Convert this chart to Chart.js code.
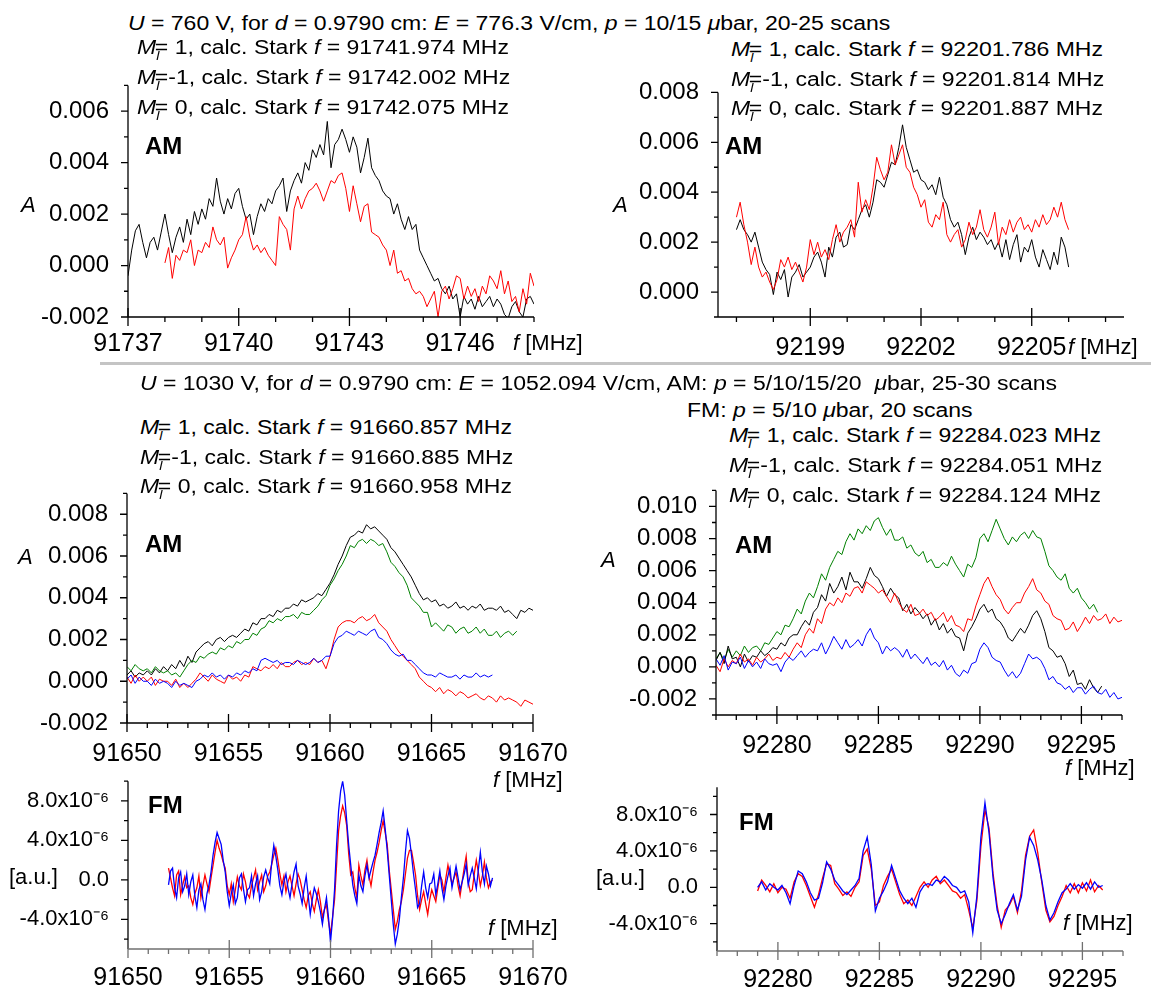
<!DOCTYPE html>
<html>
<head>
<meta charset="utf-8">
<script src="https://cdn.jsdelivr.net/npm/chart.js@4.4.1/dist/chart.umd.min.js"></script>
<style>
html, body { margin: 0; padding: 0; background: #fff; overflow: hidden; }
body { position: relative; width: 1151px; height: 990px; font-family: "Liberation Sans", Arial, sans-serif; color: #000; }
canvas { position: absolute; }
.note { position: absolute; white-space: nowrap; line-height: 1; transform-origin: 0 50%; transform: translateY(-50%); }
.info { font-size: 20px; transform: translateY(-50%) scaleX(1.15); }
.info sub { font-size: 62%; font-style: italic; vertical-align: -0.45em; line-height: 0; margin-right: -0.32em; }
.tag { font-size: 24px; font-weight: bold; }
.axt { font-size: 22px; }
.sep { position: absolute; left: 100px; top: 362px; width: 1051px; height: 3px; background: #c4c4c4; }
</style>
</head>
<body>
<div class="sep"></div>
<script>
// ---- AM, U = 760 V, line near 91742 MHz (A in units of 1e-3) ----
const freq91742 = [
  91737.0,91737.1,91737.2,91737.3,91737.4,91737.5,91737.6,91737.7,91737.8,91737.9,
  91738.0,91738.1,91738.2,91738.3,91738.4,91738.5,91738.6,91738.7,91738.8,91738.9,
  91739.0,91739.1,91739.2,91739.3,91739.4,91739.5,91739.6,91739.7,91739.8,91739.9,
  91740.0,91740.1,91740.2,91740.3,91740.4,91740.5,91740.6,91740.7,91740.8,91740.9,
  91741.0,91741.1,91741.2,91741.3,91741.4,91741.5,91741.6,91741.7,91741.8,91741.9,
  91742.0,91742.1,91742.2,91742.3,91742.4,91742.5,91742.6,91742.7,91742.8,91742.9,
  91743.0,91743.1,91743.2,91743.3,91743.4,91743.5,91743.6,91743.7,91743.8,91743.9,
  91744.0,91744.1,91744.2,91744.3,91744.4,91744.5,91744.6,91744.7,91744.8,91744.9,
  91745.0,91745.1,91745.2,91745.3,91745.4,91745.5,91745.6,91745.7,91745.8,91745.9,
  91746.0,91746.1,91746.2,91746.3,91746.4,91746.5,91746.6,91746.7,91746.8,91746.9,
  91747.0,91747.1,91747.2,91747.3,91747.4,91747.5,91747.6,91747.7,91747.8,91747.9,
  91748.0
];
const black91742 = [
  -0.4,0.6,1.35,1.6,0.9,0.3,0.9,1.1,0.6,1.3,
  2.0,1.2,0.5,1.1,1.5,0.9,1.8,1.2,2.1,1.6,
  2.2,1.8,2.6,2.3,3.4,2.5,2.0,2.6,2.2,2.8,
  3.0,2.3,1.8,2.0,1.2,1.9,2.4,2.1,2.6,2.4,
  2.9,3.1,3.4,2.1,2.9,3.3,3.6,3.2,4.0,3.7,
  4.5,4.2,4.7,4.3,5.6,3.8,4.7,4.9,5.3,4.9,
  4.4,5.0,4.6,3.6,4.2,4.95,3.8,3.5,3.3,2.9,
  2.7,2.6,2.0,2.4,1.8,1.4,1.9,1.4,1.6,0.6,
  0.3,0.0,-0.3,-0.6,-0.5,-0.9,-1.1,-0.8,-1.3,-1.1,
  -2.0,-1.2,-1.5,-1.3,-1.7,-1.2,-1.6,-1.4,-1.2,-1.6,
  -1.3,-1.5,-1.9,-2.05,-1.6,-1.4,-1.8,-2.0,-1.3,-1.2,
  -1.5
];
const red91742 = [
  null,null,null,null,null,null,null,null,null,null,
  0.1,0.7,-0.5,0.4,0.2,0.6,0.5,1.0,0.0,0.6,
  0.5,0.9,0.7,1.5,1.0,0.8,1.1,-0.1,0.3,0.6,
  1.0,1.2,1.9,1.1,0.6,0.8,0.5,0.7,0.4,0.2,
  0.0,1.9,1.6,1.4,0.6,2.2,2.7,2.2,2.6,2.9,
  3.0,3.2,2.9,2.5,2.9,3.3,3.2,3.5,3.6,3.0,
  2.1,3.1,2.4,1.7,2.3,2.4,1.3,1.2,1.1,0.8,
  0.6,0.0,0.6,-0.3,-0.2,-0.6,-0.5,-0.9,-1.1,-1.0,
  -1.2,-1.6,-1.3,-1.0,-2.0,-1.0,-0.8,-1.3,-0.9,-0.4,
  -0.5,-1.3,-0.8,-1.2,-0.9,-1.4,-0.8,-1.1,-0.4,-0.6,
  -0.9,-0.2,-1.1,-0.6,-1.4,-1.2,-1.8,-0.9,-1.5,-0.3,
  -0.8
];

// ---- AM, U = 760 V, line near 92202 MHz ----
const freq92201 = [
  92197.0,92197.1,92197.2,92197.3,92197.4,92197.5,92197.6,92197.7,92197.8,92197.9,
  92198.0,92198.1,92198.2,92198.3,92198.4,92198.5,92198.6,92198.7,92198.8,92198.9,
  92199.0,92199.1,92199.2,92199.3,92199.4,92199.5,92199.6,92199.7,92199.8,92199.9,
  92200.0,92200.1,92200.2,92200.3,92200.4,92200.5,92200.6,92200.7,92200.8,92200.9,
  92201.0,92201.1,92201.2,92201.3,92201.4,92201.5,92201.6,92201.7,92201.8,92201.9,
  92202.0,92202.1,92202.2,92202.3,92202.4,92202.5,92202.6,92202.7,92202.8,92202.9,
  92203.0,92203.1,92203.2,92203.3,92203.4,92203.5,92203.6,92203.7,92203.8,92203.9,
  92204.0,92204.1,92204.2,92204.3,92204.4,92204.5,92204.6,92204.7,92204.8,92204.9,
  92205.0,92205.1,92205.2,92205.3,92205.4,92205.5,92205.6,92205.7,92205.8,92205.9,
  92206.0
];
const black92201 = [
  2.5,2.9,2.5,2.3,2.0,2.4,1.8,1.2,0.9,0.7,
  -0.1,0.8,0.5,0.9,-0.2,0.6,0.8,1.1,0.6,0.8,
  1.0,1.4,1.6,1.2,0.6,1.8,1.4,2.2,2.4,1.8,
  1.9,2.7,2.5,2.9,3.3,3.5,3.0,3.6,4.5,4.4,
  4.2,4.7,5.2,5.1,5.8,6.7,5.8,5.3,4.8,4.9,
  4.5,4.4,4.1,4.3,3.9,4.6,3.8,3.5,2.9,2.6,
  2.8,2.3,1.5,2.2,2.6,2.1,2.4,2.2,1.9,2.1,
  1.7,2.0,1.4,2.1,1.3,1.9,2.3,1.2,1.8,1.6,
  2.1,1.4,1.0,1.7,1.3,0.9,1.6,1.1,2.2,1.8,
  1.0
];
const red92201 = [
  3.0,3.6,2.7,2.0,1.1,1.8,1.0,0.6,0.8,0.4,
  0.1,0.5,1.3,1.0,1.4,0.9,1.2,0.8,0.4,1.0,
  2.1,1.5,2.0,1.4,1.7,1.3,2.1,2.7,2.0,2.4,
  2.6,2.9,2.2,4.4,3.2,3.7,3.3,4.2,5.4,4.9,
  4.5,4.8,5.9,5.1,5.5,5.9,5.0,4.8,4.2,3.9,
  3.4,3.7,2.8,2.6,3.1,2.9,3.6,2.3,2.0,2.3,
  2.5,1.8,2.1,2.8,2.3,2.6,3.3,2.5,2.2,2.6,
  3.2,1.9,2.6,2.3,2.9,2.4,2.8,3.0,2.5,2.7,
  2.4,2.9,2.6,3.1,2.7,2.9,3.4,3.0,3.6,2.9,
  2.5
];

// ---- AM, U = 1030 V, line near 91661 MHz ----
const freq91660 = [
  91650.0,91650.2,91650.4,91650.6,91650.8,91651.0,91651.2,91651.4,91651.6,91651.8,
  91652.0,91652.2,91652.4,91652.6,91652.8,91653.0,91653.2,91653.4,91653.6,91653.8,
  91654.0,91654.2,91654.4,91654.6,91654.8,91655.0,91655.2,91655.4,91655.6,91655.8,
  91656.0,91656.2,91656.4,91656.6,91656.8,91657.0,91657.2,91657.4,91657.6,91657.8,
  91658.0,91658.2,91658.4,91658.6,91658.8,91659.0,91659.2,91659.4,91659.6,91659.8,
  91660.0,91660.2,91660.4,91660.6,91660.8,91661.0,91661.2,91661.4,91661.6,91661.8,
  91662.0,91662.2,91662.4,91662.6,91662.8,91663.0,91663.2,91663.4,91663.6,91663.8,
  91664.0,91664.2,91664.4,91664.6,91664.8,91665.0,91665.2,91665.4,91665.6,91665.8,
  91666.0,91666.2,91666.4,91666.6,91666.8,91667.0,91667.2,91667.4,91667.6,91667.8,
  91668.0,91668.2,91668.4,91668.6,91668.8,91669.0,91669.2,91669.4,91669.6,91669.8,
  91670.0
];
const black91660 = [
  0.3,0.5,0.2,0.4,0.3, 0.5,0.3,0.6,0.4,0.7,
  0.5,0.8,0.6,1.0,0.7, 1.2,0.9,1.4,1.6,1.8,
  1.9,1.7,2.0,2.1,1.9, 2.1,2.2,2.1,2.3,2.5,
  2.4,2.8,2.7,3.0,3.0, 3.2,3.1,3.4,3.3,3.5,
  3.5,3.7,3.6,3.9,3.8, 3.9,4.0,4.2,4.1,4.4,
  4.7,5.1,5.6,6.0,6.5, 6.9,7.0,7.2,7.1,7.5,
  7.3,7.4,7.2,7.0,6.8, 6.4,6.2,5.9,5.6,5.3,
  5.0,4.6,4.2,3.9,4.0, 3.8,3.9,3.6,3.7,3.5,
  3.6,3.8,3.5,3.6,3.4, 3.6,3.5,3.7,3.4,3.5,
  3.5,3.4,3.6,3.3,3.4, 3.2,3.0,3.4,3.3,3.5,
  3.4
];
const green91660 = [
  0.7,0.5,0.8,0.6,0.5, 0.6,0.4,0.7,0.5,0.4,
  0.5,0.3,0.4,0.2,0.5, 0.8,1.0,0.9,1.2,1.1,
  1.3,1.4,1.3,1.6,1.5, 1.7,1.6,1.9,1.8,2.0,
  2.0,2.3,2.2,2.5,2.6, 2.9,2.8,3.0,2.9,3.1,
  3.1,3.2,3.0,3.3,3.2, 3.2,3.4,3.6,3.9,4.1,
  4.6,4.9,5.3,5.6,6.0, 6.5,6.4,6.7,6.8,6.6,
  6.8,6.7,6.5,6.6,6.2, 5.7,5.5,5.2,5.0,4.6,
  4.0,3.8,3.6,3.3,3.3, 2.6,2.8,2.6,2.4,2.7,
  2.6,2.3,2.5,2.6,2.3, 2.4,2.6,2.3,2.5,2.2,
  2.2,2.4,2.1,2.3,2.4, 2.2,2.4,null,null,null,
  null
];
const red91660 = [
  0.2,-0.1,0.3,0.0,0.2, 0.0,0.2,-0.2,0.1,0.0,
  0.0,-0.2,0.1,-0.3,-0.1, -0.3,-0.1,0.1,0.4,0.2,
  0.0,0.3,0.1,0.0,-0.1, 0.3,0.1,0.2,0.0,0.3,
  0.2,0.7,0.6,0.5,0.7, 0.6,0.8,0.6,0.9,0.7,
  0.7,0.9,1.0,0.8,0.9, 0.8,1.1,0.9,1.0,0.6,
  1.2,2.0,2.6,2.8,2.9, 2.9,2.8,3.0,3.1,2.9,
  3.0,3.2,2.8,2.6,2.4, 2.0,1.7,1.4,1.2,1.0,
  0.8,0.6,0.2,0.0,-0.2, -0.3,-0.5,-0.3,-0.6,-0.4,
  -0.5,-0.7,-0.5,-0.6,-0.8, -0.7,-0.6,-0.8,-0.9,-0.7,
  -0.8,-1.0,-0.7,-0.9,-0.8, -0.9,-1.0,-1.2,-0.9,-1.0,
  -1.1
];
const blue91660 = [
  0.1,0.3,-0.1,0.2,0.0, 0.0,-0.2,0.1,-0.1,0.0,
  -0.1,-0.3,0.0,-0.2,-0.1, -0.2,-0.3,0.0,0.1,0.3,
  0.2,0.4,0.2,0.3,0.1, 0.3,0.2,0.4,0.3,0.5,
  0.4,0.6,0.5,1.0,1.1, 1.0,0.9,1.0,0.8,0.9,
  0.9,0.8,1.0,0.9,0.8, 0.9,1.1,0.9,1.0,1.2,
  1.2,1.8,2.1,2.2,2.4, 2.3,2.2,2.4,2.3,2.2,
  2.4,2.5,2.1,2.0,1.8, 1.5,1.3,1.2,1.3,1.0,
  1.0,0.8,0.6,0.4,0.3, 0.3,0.2,0.4,0.3,0.2,
  0.2,0.3,0.1,0.3,0.2, 0.2,0.4,0.2,0.3,0.2,
  0.3,null,null,null,null, null,null,null,null,null,
  null
];

// ---- AM, U = 1030 V, lines near 92284 MHz ----
const freq92284 = [
  92277.0,92277.2,92277.4,92277.6,92277.8,92278.0,92278.2,92278.4,92278.6,92278.8,
  92279.0,92279.2,92279.4,92279.6,92279.8,92280.0,92280.2,92280.4,92280.6,92280.8,
  92281.0,92281.2,92281.4,92281.6,92281.8,92282.0,92282.2,92282.4,92282.6,92282.8,
  92283.0,92283.2,92283.4,92283.6,92283.8,92284.0,92284.2,92284.4,92284.6,92284.8,
  92285.0,92285.2,92285.4,92285.6,92285.8,92286.0,92286.2,92286.4,92286.6,92286.8,
  92287.0,92287.2,92287.4,92287.6,92287.8,92288.0,92288.2,92288.4,92288.6,92288.8,
  92289.0,92289.2,92289.4,92289.6,92289.8,92290.0,92290.2,92290.4,92290.6,92290.8,
  92291.0,92291.2,92291.4,92291.6,92291.8,92292.0,92292.2,92292.4,92292.6,92292.8,
  92293.0,92293.2,92293.4,92293.6,92293.8,92294.0,92294.2,92294.4,92294.6,92294.8,
  92295.0,92295.2,92295.4,92295.6,92295.8,92296.0,92296.2,92296.4,92296.6,92296.8,
  92297.0
];
const green92284 = [
  0.5,0.9,0.4,1.1,0.6, 1.0,0.7,1.3,0.9,1.2,
  1.3,1.0,1.5,1.4,1.8, 2.2,2.0,2.6,2.5,3.0,
  3.6,3.3,4.1,4.6,4.3, 5.0,5.8,5.4,6.2,6.7,
  7.2,7.0,7.8,8.3,7.9, 8.6,8.3,8.8,8.5,9.1,
  9.3,8.7,8.2,8.6,7.9, 7.9,8.1,7.4,7.6,7.1,
  6.9,7.2,6.5,6.7,6.2, 6.2,6.5,6.3,6.9,6.4,
  6.0,5.6,6.4,6.2,6.8, 8.0,8.3,7.8,8.5,9.2,
  8.6,8.0,7.6,8.1,7.8, 8.2,8.4,8.0,8.5,8.1,
  8.0,7.2,6.3,6.0,5.6, 5.4,5.8,4.9,4.6,4.9,
  4.3,4.0,3.6,3.9,3.4, null,null,null,null,null,
  null
];
const black92284 = [
  0.4,0.9,0.2,1.3,0.5, 0.6,0.0,0.8,0.3,0.7,
  0.6,1.0,0.7,0.9,1.2, 1.1,1.5,1.3,1.8,2.0,
  2.0,2.5,2.9,2.6,3.4, 3.7,4.5,4.1,5.2,4.6,
  5.0,5.6,4.8,5.9,5.3, 5.3,4.9,5.5,6.2,5.7,
  5.5,5.0,4.4,4.9,4.5, 4.3,3.5,3.9,3.3,3.7,
  3.4,3.0,3.3,2.6,3.0, 2.3,2.7,2.1,2.4,1.9,
  1.8,1.0,2.1,2.5,3.0, 3.6,3.9,3.4,3.6,3.0,
  2.8,2.4,1.8,1.6,2.0, 2.4,2.1,2.6,3.2,3.5,
  3.0,2.2,1.2,1.0,0.6, 0.7,0.2,-0.6,-0.2,-1.1,
  -1.0,-1.4,-0.8,-1.3,-1.6, -1.2,null,null,null,null,
  null
];
const red92284 = [
  0.1,-0.3,0.5,0.0,0.4, 0.2,0.8,0.3,0.5,0.1,
  0.6,0.3,0.5,0.8,0.4, 0.6,0.5,0.9,0.6,1.1,
  1.5,1.2,2.0,2.4,2.1, 3.0,2.7,3.6,4.0,3.8,
  4.3,4.0,4.6,4.4,4.9, 5.0,4.6,5.3,5.1,4.9,
  4.6,4.8,4.4,4.0,4.6, 4.0,3.6,3.4,3.9,3.2,
  3.3,3.6,3.2,3.4,2.9, 3.1,3.4,2.8,3.2,2.6,
  2.5,2.2,3.0,2.9,3.8, 4.5,5.2,5.6,5.0,4.5,
  4.2,3.6,3.3,3.7,4.0, 4.0,4.6,5.0,5.5,4.8,
  4.6,4.1,3.9,3.2,3.0, 2.9,2.3,2.4,2.8,2.2,
  2.6,3.1,2.7,3.2,2.9, 3.0,3.3,2.7,3.1,2.8,
  2.9
];
const blue92284 = [
  0.5,0.1,0.7,-0.2,0.3, 0.2,0.6,-0.1,0.4,0.0,
  0.3,-0.1,0.5,0.2,0.1, 0.2,-0.3,0.3,0.6,0.4,
  0.7,1.0,0.6,0.9,1.1, 1.0,1.5,0.8,1.3,1.9,
  1.5,1.1,1.7,1.2,1.4, 1.7,1.3,2.0,2.4,1.8,
  1.5,0.8,1.3,1.0,1.2, 1.0,0.6,1.1,0.5,0.8,
  0.5,0.2,0.6,0.1,0.3, 0.0,0.4,-0.2,0.1,-0.4,
  -0.6,-0.2,-0.4,0.2,0.3, 1.1,1.5,1.2,0.6,0.4,
  0.3,-0.2,-0.6,-0.3,-0.7, -0.4,0.2,0.8,0.5,0.6,
  0.4,-0.1,-0.8,-0.6,-1.0, -1.1,-1.4,-1.2,-1.6,-1.3,
  -1.3,-1.7,-1.4,-1.2,-1.6, -1.7,-1.4,-1.9,-1.6,-2.0,
  -1.9
];

// ---- FM, U = 1030 V (signal in units of 1e-6) ----
const freq91660fm = [
  91652.0,91652.1,91652.2,91652.3,91652.4,91652.5,91652.6,91652.7,91652.8,91652.9,
  91653.0,91653.1,91653.2,91653.3,91653.4,91653.5,91653.6,91653.7,91653.8,91653.9,
  91654.0,91654.1,91654.2,91654.3,91654.4,91654.5,91654.6,91654.7,91654.8,91654.9,
  91655.0,91655.1,91655.2,91655.3,91655.4,91655.5,91655.6,91655.7,91655.8,91655.9,
  91656.0,91656.1,91656.2,91656.3,91656.4,91656.5,91656.6,91656.7,91656.8,91656.9,
  91657.0,91657.1,91657.2,91657.3,91657.4,91657.5,91657.6,91657.7,91657.8,91657.9,
  91658.0,91658.1,91658.2,91658.3,91658.4,91658.5,91658.6,91658.7,91658.8,91658.9,
  91659.0,91659.1,91659.2,91659.3,91659.4,91659.5,91659.6,91659.7,91659.8,91659.9,
  91660.0,91660.1,91660.2,91660.3,91660.4,91660.5,91660.6,91660.7,91660.8,91660.9,
  91661.0,91661.1,91661.2,91661.3,91661.4,91661.5,91661.6,91661.7,91661.8,91661.9,
  91662.0,91662.1,91662.2,91662.3,91662.4,91662.5,91662.6,91662.7,91662.8,91662.9,
  91663.0,91663.1,91663.2,91663.3,91663.4,91663.5,91663.6,91663.7,91663.8,91663.9,
  91664.0,91664.1,91664.2,91664.3,91664.4,91664.5,91664.6,91664.7,91664.8,91664.9,
  91665.0,91665.1,91665.2,91665.3,91665.4,91665.5,91665.6,91665.7,91665.8,91665.9,
  91666.0,91666.1,91666.2,91666.3,91666.4,91666.5,91666.6,91666.7,91666.8,91666.9,
  91667.0,91667.1,91667.2,91667.3,91667.4,91667.5,91667.6,91667.7,91667.8,91667.9,
  91668.0
];
const blue91660fm = [
  -0.5,0.9,1.2,-0.8,-1.8,0.2,0.8,-1.2,-0.6,0.6,
  -1.5,-0.2,0.5,-1.6,-2.8,-1.0,-0.4,-2.0,-3.0,-1.4,
  -0.5,0.8,2.5,3.8,4.8,4.2,3.6,2.0,0.8,-1.2,
  -2.6,-1.4,-0.5,-2.4,-1.8,0.2,0.6,-0.9,-2.2,-1.0,
  -0.8,0.4,-1.6,-0.4,0.4,-2.0,-1.2,0.3,1.0,0.2,
  -0.4,1.8,3.5,2.4,1.0,-0.6,-1.5,-0.2,0.6,-0.8,
  -1.8,-0.4,0.8,1.6,-0.6,-1.4,-2.4,-0.8,0.4,-1.6,
  -3.5,-2.0,-0.8,-1.4,-2.2,-3.2,-4.5,-3.0,-1.8,-3.8,
  -6.3,-4.0,-1.0,3.5,7.0,9.0,10.0,8.6,6.0,3.5,
  1.5,-0.5,-1.6,-2.4,0.5,-0.6,-1.2,0.4,1.5,0.2,
  1.0,1.8,2.5,3.6,4.8,5.8,7.0,5.2,3.0,0.5,
  -2.0,-4.5,-6.5,-5.5,-4.0,-1.8,0.2,2.8,5.0,4.2,
  2.5,0.6,-1.0,-2.8,-2.4,-0.6,0.8,-0.8,-1.8,-0.4,
  -0.3,0.6,-1.5,-0.4,0.9,-0.8,-2.0,-0.6,0.4,1.2,
  -0.8,0.3,1.4,0.2,-1.0,-0.2,0.6,1.6,-0.5,0.4,
  1.2,0.2,-0.9,1.0,2.8,0.8,-0.4,1.4,0.6,-0.6,
  0.2
];
const red91660fm = [
  1.2,0.2,-0.8,-1.6,0.5,0.9,-1.5,-0.5,0.3,-0.8,
  -0.6,-1.8,-2.5,-1.4,-0.8,0.4,-1.8,-0.6,0.5,-0.4,
  -1.2,0.2,1.5,2.8,4.0,3.2,2.6,1.8,1.2,-0.6,
  -1.5,-0.4,-2.2,-1.0,0.3,-0.6,-1.0,0.6,-0.2,-1.4,
  -1.8,-0.6,0.2,1.0,-1.0,-0.2,0.5,-1.2,-0.6,0.4,
  0.8,1.6,2.5,3.2,2.0,0.6,-0.5,0.4,-1.2,-0.2,
  0.4,-0.6,-1.6,-0.4,0.6,0.0,-1.0,-2.0,-2.8,-1.6,
  -1.2,-2.4,-3.2,-2.0,-1.0,-2.2,-3.8,-3.0,-2.5,-4.2,
  -5.5,-3.8,-2.0,1.5,5.0,6.5,7.5,6.8,5.5,2.6,
  0.5,0.8,-0.8,-1.8,1.5,0.4,-0.5,1.0,2.0,0.4,
  -0.6,0.8,2.0,2.8,3.8,5.0,6.0,4.8,3.6,1.0,
  -1.0,-3.0,-5.0,-4.2,-3.0,-2.2,-1.0,0.6,2.2,3.0,
  3.0,1.8,0.5,-1.6,-3.0,-2.0,-1.2,-2.4,-3.5,-2.0,
  -1.0,-1.6,-2.2,-0.8,0.5,0.0,-1.2,0.2,1.5,0.4,
  -0.4,0.2,0.8,-0.6,-1.6,-0.2,1.2,2.4,-0.2,-1.2,
  -1.0,0.6,2.0,0.8,-0.6,0.4,1.8,0.2,-0.8,-0.2,
  0.0
];

const freq92284fm = [
  92279.0,92279.2,92279.4,92279.6,92279.8,92280.0,92280.2,92280.4,92280.6,92280.8,
  92281.0,92281.2,92281.4,92281.6,92281.8,92282.0,92282.2,92282.4,92282.6,92282.8,
  92283.0,92283.2,92283.4,92283.6,92283.8,92284.0,92284.2,92284.4,92284.6,92284.8,
  92285.0,92285.2,92285.4,92285.6,92285.8,92286.0,92286.2,92286.4,92286.6,92286.8,
  92287.0,92287.2,92287.4,92287.6,92287.8,92288.0,92288.2,92288.4,92288.6,92288.8,
  92289.0,92289.2,92289.4,92289.6,92289.8,92290.0,92290.2,92290.4,92290.6,92290.8,
  92291.0,92291.2,92291.4,92291.6,92291.8,92292.0,92292.2,92292.4,92292.6,92292.8,
  92293.0,92293.2,92293.4,92293.6,92293.8,92294.0,92294.2,92294.4,92294.6,92294.8,
  92295.0,92295.2,92295.4,92295.6,92295.8,92296.0
];
const blue92284fm = [
  0.0,0.6,-0.3,0.4,0.0, -0.3,0.2,-0.6,-1.8,0.2,
  1.8,1.5,0.6,-0.6,-1.4, -1.2,0.5,2.8,2.0,0.8,
  0.2,-0.4,-0.8,-0.3,0.2, 1.0,4.0,5.5,2.5,-2.6,
  -1.2,-0.4,0.6,2.4,1.0, -0.4,-1.2,-1.8,-1.2,-2.2,
  -0.5,0.2,0.4,0.2,0.8, 0.6,1.2,0.8,0.2,0.0,
  -0.6,-0.4,-1.6,-5.0,-1.0, 5.5,9.3,6.0,1.0,-2.5,
  -4.0,-3.0,-1.8,-0.8,-2.5, -1.0,3.0,5.5,4.6,3.0,
  0.8,-2.0,-3.6,-2.8,-1.6, -0.6,-0.2,0.4,-0.2,0.3,
  -0.1,0.5,-0.2,0.6,0.0, 0.2
];
const red92284fm = [
  -0.4,0.8,0.2,-0.5,0.4, -0.6,0.0,-0.2,-1.2,0.6,
  1.5,1.2,0.2,-1.0,-2.2, -0.8,1.0,2.6,2.4,0.4,
  -0.2,-0.9,-0.5,-1.0,0.0, 0.6,3.5,4.2,2.0,-2.0,
  -1.6,0.2,1.2,2.0,0.6, -0.8,-1.8,-1.4,-2.0,-1.0,
  0.0,0.6,0.0,0.8,1.2, 0.4,0.8,0.2,-0.4,-0.6,
  -1.2,-0.8,-2.5,-4.5,-1.5, 4.5,8.5,6.5,1.5,-2.0,
  -4.4,-2.5,-2.0,-1.0,-2.8, -0.4,3.5,5.6,6.3,3.8,
  0.5,-2.5,-3.8,-3.2,-2.0, -1.0,0.2,-0.6,0.4,-0.6,
  0.5,-0.4,0.8,-0.5,0.2, -0.3
];

// ---- axis ticks: every tick position, and the ones that carry a label ----
const ticks91742 = [91737,91738,91739,91740,91741,91742,91743,91744,91745,91746,91747,91748];
const labels91742 = [91737,91740,91743,91746];
const ticks92201 = [92197,92198,92199,92200,92201,92202,92203,92204,92205,92206,92207];
const labels92201 = [92199,92202,92205];
const ticks91660 = [91650,91651,91652,91653,91654,91655,91656,91657,91658,91659,91660,
                    91661,91662,91663,91664,91665,91666,91667,91668,91669,91670];
const labels91660 = [91650,91655,91660,91665,91670];
const ticks92284 = [92277,92278,92279,92280,92281,92282,92283,92284,92285,92286,92287,
                    92288,92289,92290,92291,92292,92293,92294,92295,92296,92297];
const labels92284 = [92280,92285,92290,92295];

const yTicksTopLeft = [-2,-1,0,1,2,3,4,5,6,7];
const yLabelsTopLeft = [-2,0,2,4,6];
const yTicksTopRight = [-1,0,1,2,3,4,5,6,7,8];
const yLabelsTopRight = [0,2,4,6,8];
const yTicksMidLeft = [-2,-1,0,1,2,3,4,5,6,7,8,9];
const yLabelsMidLeft = [-2,0,2,4,6,8];
const yTicksMidRight = [-3,-2,-1,0,1,2,3,4,5,6,7,8,9,10,11];
const yLabelsMidRight = [-2,0,2,4,6,8,10];
const yTicksFm = [-6,-4,-2,0,2,4,6,8,10];
const yLabelsFm = [-4,0,4,8];

const FONT = '"Liberation Sans", Arial, sans-serif';
const Y_AXIS_W = 110, PAD_TOP = 16, X_AXIS_H = 64, PAD_RIGHT = 70;

function toPoints(xs, ys) {
  const pts = [];
  xs.forEach((x, i) => { if (ys[i] !== null && ys[i] !== undefined) pts.push({x: x, y: ys[i]}); });
  return pts;
}

// axis lines and tick marks drawn Origin-style from the scales
const axisFrame = {
  id: 'axisFrame',
  afterDraw(chart, args, o) {
    const {ctx, chartArea: a, scales: {x, y}} = chart;
    ctx.save();
    ctx.lineWidth = 1.3;
    ctx.strokeStyle = '#000';
    ctx.beginPath();
    ctx.moveTo(a.left, a.top);
    ctx.lineTo(a.left, a.bottom);
    o.yTicks.forEach(v => {
      const p = y.getPixelForValue(v);
      const len = o.yLabels.includes(v) ? 7 : 4;
      ctx.moveTo(a.left - len, p);
      ctx.lineTo(a.left, p);
    });
    ctx.stroke();
    ctx.strokeStyle = o.xColor;
    ctx.beginPath();
    ctx.moveTo(a.left, a.bottom);
    ctx.lineTo(a.right, a.bottom);
    o.xTicks.forEach(v => {
      const p = x.getPixelForValue(v);
      if (o.xLabels.includes(v)) {
        ctx.moveTo(p, a.bottom - 9);
        ctx.lineTo(p, a.bottom + 9);
      } else {
        ctx.moveTo(p, a.bottom);
        ctx.lineTo(p, a.bottom + 5);
      }
    });
    ctx.stroke();
    ctx.restore();
  }
};

function panel(p) {
  const w = Math.round(Y_AXIS_W + (p.right - p.left) + PAD_RIGHT);
  const h = Math.round(PAD_TOP + (p.bottom - p.top) + X_AXIS_H);
  const c = document.createElement('canvas');
  c.width = w;
  c.height = h;
  c.style.width = w + 'px';
  c.style.height = h + 'px';
  c.style.left = Math.round(p.left - Y_AXIS_W) + 'px';
  c.style.top = Math.round(p.top - PAD_TOP) + 'px';
  document.body.appendChild(c);

  new Chart(c, {
    type: 'line',
    data: {
      datasets: p.series.map(s => ({
        data: toPoints(p.freq, s.values),
        borderColor: s.color,
        borderWidth: p.lineWidth || 1,
        pointRadius: 0,
        tension: 0,
        fill: false
      }))
    },
    options: {
      responsive: false,
      animation: false,
      events: [],
      layout: { padding: { top: PAD_TOP, right: PAD_RIGHT, left: 0, bottom: 0 } },
      plugins: {
        legend: { display: false },
        tooltip: { enabled: false },
        axisFrame: { xTicks: p.xTicks, xLabels: p.xLabels, yTicks: p.yTicks, yLabels: p.yLabels, xColor: p.xColor || '#000' }
      },
      scales: {
        x: {
          type: 'linear', min: p.xMin, max: p.xMax,
          grid: { display: false }, border: { display: false },
          afterBuildTicks: s => { s.ticks = p.xTicks.map(v => ({ value: v })); },
          afterFit: s => { s.height = X_AXIS_H; },
          ticks: {
            autoSkip: false, maxRotation: 0, minRotation: 0, padding: p.xPad, color: '#000',
            font: { family: FONT, size: 25 },
            callback: v => p.xLabels.includes(v) ? String(v) : ''
          }
        },
        y: {
          type: 'linear', min: p.yMin, max: p.yMax,
          grid: { display: false }, border: { display: false },
          afterBuildTicks: s => { s.ticks = p.yTicks.map(v => ({ value: v })); },
          afterFit: s => { s.width = Y_AXIS_W; },
          ticks: {
            autoSkip: false, padding: 11, color: '#000',
            font: { family: FONT, size: p.yFont },
            callback: v => p.yLabels.includes(v) ? p.fmt(v) : ''
          }
        }
      }
    },
    plugins: [axisFrame]
  });
}

const fmtAm = v => (v / 1000).toFixed(3);
const fmtFm = v => v === 0 ? '0.0' : v.toFixed(1) + 'x10\u207B\u2076';

panel({ left: 128, right: 534, top: 76, bottom: 317, xMin: 91737, xMax: 91748, yMin: -2, yMax: 7,
  freq: freq91742, xTicks: ticks91742, xLabels: labels91742, yTicks: yTicksTopLeft, yLabels: yLabelsTopLeft,
  xPad: 4, yFont: 24, fmt: fmtAm,
  series: [ { values: red91742, color: '#ff0000' }, { values: black91742, color: '#000000' } ] });

panel({ left: 718, right: 1124, top: 83, bottom: 317, xMin: 92196.5, xMax: 92207.5, yMin: -1, yMax: 8,
  freq: freq92201, xTicks: ticks92201, xLabels: labels92201, yTicks: yTicksTopRight, yLabels: yLabelsTopRight,
  xPad: 8, yFont: 24, fmt: fmtAm,
  series: [ { values: red92201, color: '#ff0000' }, { values: black92201, color: '#000000' } ] });

panel({ left: 127, right: 533, top: 484, bottom: 723, xMin: 91650, xMax: 91670, yMin: -2, yMax: 9,
  freq: freq91660, xTicks: ticks91660, xLabels: labels91660, yTicks: yTicksMidLeft, yLabels: yLabelsMidLeft,
  xPad: 8, yFont: 24, fmt: fmtAm,
  series: [ { values: blue91660, color: '#0000ff' }, { values: red91660, color: '#ff0000' },
            { values: green91660, color: '#008000' }, { values: black91660, color: '#000000' } ] });

panel({ left: 716, right: 1122, top: 481, bottom: 715, xMin: 92277, xMax: 92297, yMin: -3, yMax: 11,
  freq: freq92284, xTicks: ticks92284, xLabels: labels92284, yTicks: yTicksMidRight, yLabels: yLabelsMidRight,
  xPad: 8, yFont: 24, fmt: fmtAm,
  series: [ { values: blue92284, color: '#0000ff' }, { values: red92284, color: '#ff0000' },
            { values: black92284, color: '#000000' }, { values: green92284, color: '#008000' } ] });

panel({ left: 128, right: 533, top: 773, bottom: 949, xMin: 91650, xMax: 91670, yMin: -7, yMax: 10,
  freq: freq91660fm, xTicks: ticks91660, xLabels: labels91660, yTicks: yTicksFm, yLabels: yLabelsFm,
  xPad: 6, yFont: 22, fmt: fmtFm, xColor: '#707070', lineWidth: 1.3,
  series: [ { values: blue91660fm, color: '#0000ff' }, { values: red91660fm, color: '#ff0000' } ] });

panel({ left: 717, right: 1123, top: 779, bottom: 951, xMin: 92277, xMax: 92297, yMin: -7, yMax: 11,
  freq: freq92284fm, xTicks: ticks92284, xLabels: labels92284, yTicks: yTicksFm, yLabels: yLabelsFm,
  xPad: 6, yFont: 22, fmt: fmtFm, xColor: '#707070', lineWidth: 1.3,
  series: [ { values: blue92284fm, color: '#0000ff' }, { values: red92284fm, color: '#ff0000' } ] });

// ---- text annotations ----
const mLine = (m, f) => '<i>M</i><sub>l</sub>=' + m + ', calc. Stark <i>f</i> = ' + f + ' MHz';
const fUnit = '<i>f</i> [MHz]';
const notes = [
  ['info', 128, 23, '<i>U</i> = 760 V, for <i>d</i> = 0.9790 cm: <i>E</i> = 776.3 V/cm, <i>p</i> = 10/15 <i>\u03BC</i>bar, 20-25 scans'],
  ['info', 137, 47, mLine(' 1', '91741.974')],
  ['info', 137, 77, mLine('-1', '91742.002')],
  ['info', 137, 107, mLine(' 0', '91742.075')],
  ['info', 731, 49, mLine(' 1', '92201.786')],
  ['info', 731, 79, mLine('-1', '92201.814')],
  ['info', 731, 108, mLine(' 0', '92201.887')],
  ['info', 140, 383, '<i>U</i> = 1030 V, for <i>d</i> = 0.9790 cm: <i>E</i> = 1052.094 V/cm, AM: <i>p</i> = 5/10/15/20&nbsp; <i>\u03BC</i>bar, 25-30 scans'],
  ['info', 687, 410, 'FM: <i>p</i> = 5/10 <i>\u03BC</i>bar, 20 scans'],
  ['info', 140, 427, mLine(' 1', '91660.857')],
  ['info', 140, 457, mLine('-1', '91660.885')],
  ['info', 140, 486, mLine(' 0', '91660.958')],
  ['info', 729, 435, mLine(' 1', '92284.023')],
  ['info', 729, 465, mLine('-1', '92284.051')],
  ['info', 729, 495, mLine(' 0', '92284.124')],
  ['tag', 145, 146, 'AM'],
  ['tag', 725, 146, 'AM'],
  ['tag', 145, 544, 'AM'],
  ['tag', 735, 545, 'AM'],
  ['tag', 148, 805, 'FM'],
  ['tag', 739, 822, 'FM'],
  ['axt', 21, 205, '<i>A</i>'],
  ['axt', 613, 205, '<i>A</i>'],
  ['axt', 18, 557, '<i>A</i>'],
  ['axt', 601, 560, '<i>A</i>'],
  ['axt', 9, 877, '[a.u.]'],
  ['axt', 596, 878, '[a.u.]'],
  ['axt', 513, 343, fUnit],
  ['axt', 1068, 347, fUnit],
  ['axt', 493, 780, fUnit],
  ['axt', 1065, 768, fUnit],
  ['axt', 488, 928, fUnit],
  ['axt', 1063, 923, fUnit]
];
notes.forEach(([cls, x, y, html]) => {
  const d = document.createElement('div');
  d.className = 'note ' + cls;
  d.style.left = x + 'px';
  d.style.top = y + 'px';
  d.innerHTML = html;
  document.body.appendChild(d);
});
</script>
</body>
</html>
